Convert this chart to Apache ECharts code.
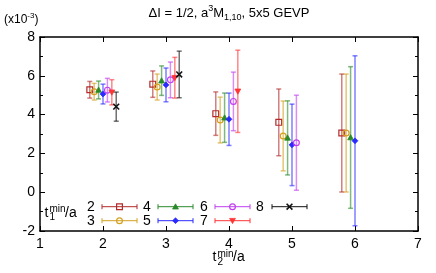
<!DOCTYPE html>
<html><head><meta charset="utf-8">
<script src="https://cdn.jsdelivr.net/npm/echarts@6/dist/echarts.min.js"></script>
<style>html,body{margin:0;padding:0;background:#fff}#c{width:436px;height:273px}</style>
</head><body><div id="c"></div>
<script>
// t2^min/a groups
const t2Values = [2, 3, 4, 5, 6];
// t1^min/a series
const t1Values = [2, 3, 4, 5, 6, 7, 8];
const xTicks = [1, 2, 3, 4, 5, 6, 7];
const yTicks = [-2, 0, 2, 4, 6, 8];
// values (x10^-3) and symmetric errors, one entry per t2 starting at t2=2
const val_t1_2 = [5.28, 5.57, 4.05, 3.60, 3.05];
const err_t1_2 = [0.43, 0.68, 1.12, 1.72, 3.04];
const val_t1_3 = [5.18, 5.42, 3.72, 2.90, 3.05];
const err_t1_3 = [0.43, 0.67, 1.18, 1.80, 3.04];
const val_t1_4 = [5.27, 5.75, 3.84, 2.80, 2.82];
const err_t1_4 = [0.46, 0.76, 1.27, 1.91, 3.65];
const val_t1_5 = [5.06, 5.53, 3.76, 2.44, 2.65];
const err_t1_5 = [0.51, 0.87, 1.35, 2.10, 4.38];
const val_t1_6 = [5.26, 5.79, 4.68, 2.55];
const err_t1_6 = [0.61, 0.92, 1.51, 2.45];
const val_t1_7 = [5.15, 5.90, 5.20];
const err_t1_7 = [0.65, 1.05, 2.12];
const val_t1_8 = [4.41, 6.07];
const err_t1_8 = [0.75, 1.20];

const allVals = [val_t1_2, val_t1_3, val_t1_4, val_t1_5, val_t1_6, val_t1_7, val_t1_8];
const allErrs = [err_t1_2, err_t1_3, err_t1_4, err_t1_5, err_t1_6, err_t1_7, err_t1_8];
const colors = ['#b22a2a', '#d4a020', '#2a8a2a', '#2a2aff', '#c040f0', '#ff3535', '#111111'];
const shapes = ['square', 'circle', 'triangle', 'diamond', 'circle', 'itriangle', 'cross'];
const xShift = 0.07;
const FONT = '"Liberation Sans", Arial, sans-serif';

function marker(shape, cx, cy, color) {
  const s = 2.9;
  switch (shape) {
    case 'square': return {type:'rect', shape:{x:cx-s, y:cy-s, width:2*s, height:2*s}, style:{fill:'none', stroke:color, lineWidth:1.2}};
    case 'circle': return {type:'circle', shape:{cx:cx, cy:cy, r:s}, style:{fill:'none', stroke:color, lineWidth:1.2}};
    case 'triangle': return {type:'polygon', shape:{points:[[cx, cy-s], [cx+s, cy+s*0.8], [cx-s, cy+s*0.8]]}, style:{fill:color, stroke:color, lineWidth:0.8}};
    case 'itriangle': return {type:'polygon', shape:{points:[[cx, cy+s], [cx+s, cy-s*0.8], [cx-s, cy-s*0.8]]}, style:{fill:color, stroke:color, lineWidth:0.8}};
    case 'diamond': return {type:'polygon', shape:{points:[[cx, cy-s], [cx+s, cy], [cx, cy+s], [cx-s, cy]]}, style:{fill:color, stroke:color, lineWidth:0.8}};
    case 'cross': return {type:'group', children:[
      {type:'line', shape:{x1:cx-s, y1:cy-s, x2:cx+s, y2:cy+s}, style:{stroke:color, lineWidth:1.6}},
      {type:'line', shape:{x1:cx-s, y1:cy+s, x2:cx+s, y2:cy-s}, style:{stroke:color, lineWidth:1.6}}]};
  }
}

const series = t1Values.map((t1, k) => ({
  type: 'custom',
  name: String(t1),
  data: allVals[k].map((v, i) => [t2Values[i] + (t1 - 5) * xShift, v, allErrs[k][i]]),
  renderItem: function (params, api) {
    const x = api.value(0), y = api.value(1), e = api.value(2);
    const c = api.coord([x, y]);
    const top = api.coord([x, y + e]);
    const bot = api.coord([x, y - e]);
    const col = colors[k];
    const cw = 2.5;
    return {type:'group', children:[
      {type:'line', shape:{x1:c[0], y1:top[1], x2:c[0], y2:bot[1]}, style:{stroke:col, lineWidth:1.5, opacity:0.6}},
      {type:'line', shape:{x1:c[0]-cw, y1:top[1], x2:c[0]+cw, y2:top[1]}, style:{stroke:col, lineWidth:1.5, opacity:0.6}},
      {type:'line', shape:{x1:c[0]-cw, y1:bot[1], x2:c[0]+cw, y2:bot[1]}, style:{stroke:col, lineWidth:1.5, opacity:0.6}},
      marker(shapes[k], c[0], c[1], col)
    ]};
  }
}));

// legend samples (decoration)
const legendCols = [{lx: 91, x0: 102}, {lx: 147, x0: 158}, {lx: 204, x0: 215}, {lx: 260, x0: 272}];
const legendRows = [206.7, 220.7];
const legendEls = [];
t1Values.forEach((t1, k) => {
  const col = legendCols[Math.floor(k / 2)];
  const cy = legendRows[k % 2];
  const c = colors[k];
  const len = 35, cw = 2.5;
  legendEls.push({type:'text', x: col.lx, y: cy, style:{text:String(t1), font:'14px ' + FONT, fill:'#000', align:'center', verticalAlign:'middle'}});
  legendEls.push({type:'line', shape:{x1:col.x0, y1:cy, x2:col.x0+len, y2:cy}, style:{stroke:c, lineWidth:1}});
  legendEls.push({type:'line', shape:{x1:col.x0, y1:cy-cw, x2:col.x0, y2:cy+cw}, style:{stroke:c, lineWidth:1}});
  legendEls.push({type:'line', shape:{x1:col.x0+len, y1:cy-cw, x2:col.x0+len, y2:cy+cw}, style:{stroke:c, lineWidth:1}});
  legendEls.push(marker(shapes[k], col.x0 + len / 2, cy, c));
});

function txt(x, y, s, size, align) {
  return {type:'text', x:x, y:y, style:{text:s, font:size + 'px ' + FONT, fill:'#000', align:align || 'left', verticalAlign:'middle'}};
}

const graphics = [
  {type:'text', x:229, y:13, style:{
    text:'{a|ΔI = 1/2, a}{s|3}{a|M}{b|1,10}{a|, 5x5 GEVP}', align:'center', verticalAlign:'middle',
    rich:{
      a:{font:'13px ' + FONT, fill:'#000', lineHeight:18, verticalAlign:'middle'},
      s:{font:'9px ' + FONT, fill:'#000', lineHeight:10, verticalAlign:'top'},
      b:{font:'9px ' + FONT, fill:'#000', lineHeight:10, verticalAlign:'bottom'}
    }}},
  {type:'text', x:4, y:20, style:{
    text:'{a|(x10}{s|-3}{a|)}', align:'left', verticalAlign:'middle',
    rich:{
      a:{font:'12px ' + FONT, fill:'#000', lineHeight:16, verticalAlign:'middle'},
      s:{font:'8px ' + FONT, fill:'#000', lineHeight:9, verticalAlign:'top'}
    }}},
  // x axis name t2^min/a
  txt(212.5, 257, 't', 14), txt(217.5, 254, 'min', 10), txt(217.5, 262, '2', 10), txt(233, 257, '/a', 14),
  // legend title t1^min/a
  txt(44.5, 213, 't', 14), txt(49.5, 209.5, 'min', 10), txt(49.5, 217.5, '1', 10), txt(65, 213, '/a', 14)
].concat(legendEls);

function axisCommon() {
  return {
    axisLine:{show:true, onZero:false, lineStyle:{color:'#000', width:1.5}},
    axisTick:{show:true, inside:true, length:5, lineStyle:{color:'#000', width:1}},
    splitLine:{show:false}
  };
}

const chart = echarts.init(document.getElementById('c'), null, {renderer:'canvas'});
chart.setOption({
  animation:false,
  backgroundColor:'#fff',
  grid:{left:40, right:18, top:37, bottom:42},
  xAxis:[
    Object.assign({type:'value', min:xTicks[0], max:xTicks[xTicks.length-1], interval:1, position:'bottom',
      axisLabel:{show:true, fontSize:14, fontFamily:FONT, color:'#000', margin:6}}, axisCommon()),
    Object.assign({type:'value', min:xTicks[0], max:xTicks[xTicks.length-1], interval:1, position:'top',
      axisLabel:{show:false}}, axisCommon())
  ],
  yAxis:[
    Object.assign({type:'value', min:yTicks[0], max:yTicks[yTicks.length-1], interval:2, position:'left',
      axisLabel:{show:true, fontSize:14, fontFamily:FONT, color:'#000', margin:5},
      minorTick:{show:true, splitNumber:2, length:3, lineStyle:{color:'#000'}}}, axisCommon()),
    Object.assign({type:'value', min:yTicks[0], max:yTicks[yTicks.length-1], interval:2, position:'right',
      axisLabel:{show:false},
      minorTick:{show:true, splitNumber:2, length:3, lineStyle:{color:'#000'}}}, axisCommon())
  ],
  series: series,
  graphic: graphics
});
</script></body></html>
